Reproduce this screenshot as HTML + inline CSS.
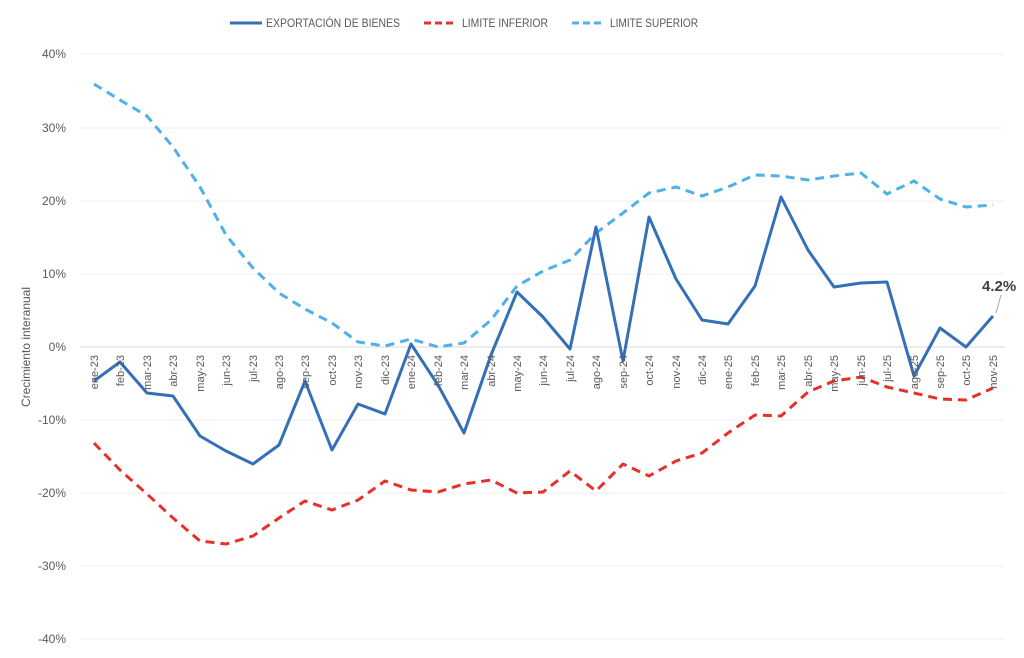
<!DOCTYPE html>
<html><head><meta charset="utf-8"><style>
html,body{margin:0;padding:0;background:#fff;}
svg{display:block;font-family:"Liberation Sans",sans-serif;}
.g{stroke:#efefef;stroke-width:1}
.yl{font-size:12px;fill:#595959;text-anchor:end}
.xl{font-size:11px;fill:#595959;text-anchor:end}
</style></head><body>
<svg width="1024" height="658" viewBox="0 0 1024 658">
<g>
<line class="g" x1="80" x2="1005" y1="54" y2="54"/>
<line class="g" x1="80" x2="1005" y1="128" y2="128"/>
<line class="g" x1="80" x2="1005" y1="201" y2="201"/>
<line class="g" x1="80" x2="1005" y1="274" y2="274"/>
<line x1="80" x2="1005" y1="347" y2="347" stroke="#d9d9d9" stroke-width="1"/>
<line class="g" x1="80" x2="1005" y1="420" y2="420"/>
<line class="g" x1="80" x2="1005" y1="493" y2="493"/>
<line class="g" x1="80" x2="1005" y1="566" y2="566"/>
<line class="g" x1="80" x2="1005" y1="639" y2="639"/>
</g>
<g class="yl">
<text x="66" y="58">40%</text>
<text x="66" y="132">30%</text>
<text x="66" y="205">20%</text>
<text x="66" y="278">10%</text>
<text x="66" y="351">0%</text>
<text x="66" y="424">-10%</text>
<text x="66" y="497">-20%</text>
<text x="66" y="570">-30%</text>
<text x="66" y="643">-40%</text>
</g>
<text transform="translate(30,347) rotate(-90)" text-anchor="middle" font-size="12" fill="#595959">Crecimiento interanual</text>
<!-- legend -->
<line x1="230" x2="262" y1="23" y2="23" stroke="#3470b8" stroke-width="3"/>
<text x="266" y="27" font-size="12" fill="#595959" textLength="134" lengthAdjust="spacingAndGlyphs">EXPORTACIÓN DE BIENES</text>
<line x1="424" x2="456" y1="23" y2="23" stroke="#e8302a" stroke-width="3" stroke-dasharray="7,4"/>
<text x="462" y="27" font-size="12" fill="#595959" textLength="86" lengthAdjust="spacingAndGlyphs">LIMITE INFERIOR</text>
<line x1="572" x2="604" y1="23" y2="23" stroke="#4fb0ea" stroke-width="3" stroke-dasharray="7,4"/>
<text x="610" y="27" font-size="12" fill="#595959" textLength="88" lengthAdjust="spacingAndGlyphs">LIMITE SUPERIOR</text>
<!-- series -->
<polyline fill="none" stroke="#4fb0ea" stroke-width="3" stroke-dasharray="9,6" points="94,84 120,100 147,116 173,147 200,187 226,235 253,268 279,293 305,309 332,323 358,342 385,346 411,339 438,347 464,343 491,320 517,286 543,271 570,260 596,233 623,213 649,193 676,187 702,196 728,187 755,175 781,176 808,180 834,176 861,173 887,194 914,181 940,199 966,207 993,205"/>
<polyline fill="none" stroke="#e8302a" stroke-width="3" stroke-dasharray="9,6" points="94,443 120,470 147,494 173,518 200,541 226,544 253,536 279,518 305,501 332,510 358,500 385,481 411,490 438,492 464,484 491,480 517,493 543,492 570,471 596,491 623,464 649,476 676,461 702,453 728,433 755,415 781,416 808,392 834,381 861,377 887,387 914,393 940,399 966,400 993,388"/>
<polyline fill="none" stroke="#3470b8" stroke-width="3" stroke-linejoin="round" points="94,381 120,362 147,393 173,396 200,436 226,451 253,464 279,445 305,381 332,450 358,404 385,414 411,344 438,385 464,433 491,355 517,292 543,317 570,349 596,227 623,361 649,217 676,279 702,320 728,324 755,286 781,197 808,250 834,287 861,283 887,282 914,376 940,328 966,347 993,316"/>
<line x1="996" x2="1001" y1="313" y2="295" stroke="#a6a6a6" stroke-width="1"/>
<text x="982" y="291" font-size="15" font-weight="bold" fill="#404040">4.2%</text>
<!-- x labels -->
<g class="xl">
<text transform="translate(98,355) rotate(-90)">ene-23</text>
<text transform="translate(124,355) rotate(-90)">feb-23</text>
<text transform="translate(151,355) rotate(-90)">mar-23</text>
<text transform="translate(177,355) rotate(-90)">abr-23</text>
<text transform="translate(204,355) rotate(-90)">may-23</text>
<text transform="translate(230,355) rotate(-90)">jun-23</text>
<text transform="translate(257,355) rotate(-90)">jul-23</text>
<text transform="translate(283,355) rotate(-90)">ago-23</text>
<text transform="translate(309,355) rotate(-90)">sep-23</text>
<text transform="translate(336,355) rotate(-90)">oct-23</text>
<text transform="translate(362,355) rotate(-90)">nov-23</text>
<text transform="translate(389,355) rotate(-90)">dic-23</text>
<text transform="translate(415,355) rotate(-90)">ene-24</text>
<text transform="translate(442,355) rotate(-90)">feb-24</text>
<text transform="translate(468,355) rotate(-90)">mar-24</text>
<text transform="translate(495,355) rotate(-90)">abr-24</text>
<text transform="translate(521,355) rotate(-90)">may-24</text>
<text transform="translate(547,355) rotate(-90)">jun-24</text>
<text transform="translate(574,355) rotate(-90)">jul-24</text>
<text transform="translate(600,355) rotate(-90)">ago-24</text>
<text transform="translate(627,355) rotate(-90)">sep-24</text>
<text transform="translate(653,355) rotate(-90)">oct-24</text>
<text transform="translate(680,355) rotate(-90)">nov-24</text>
<text transform="translate(706,355) rotate(-90)">dic-24</text>
<text transform="translate(732,355) rotate(-90)">ene-25</text>
<text transform="translate(759,355) rotate(-90)">feb-25</text>
<text transform="translate(785,355) rotate(-90)">mar-25</text>
<text transform="translate(812,355) rotate(-90)">abr-25</text>
<text transform="translate(838,355) rotate(-90)">may-25</text>
<text transform="translate(865,355) rotate(-90)">jun-25</text>
<text transform="translate(891,355) rotate(-90)">jul-25</text>
<text transform="translate(918,355) rotate(-90)">ago-25</text>
<text transform="translate(944,355) rotate(-90)">sep-25</text>
<text transform="translate(970,355) rotate(-90)">oct-25</text>
<text transform="translate(997,355) rotate(-90)">nov-25</text>
</g>
</svg>
</body></html>
